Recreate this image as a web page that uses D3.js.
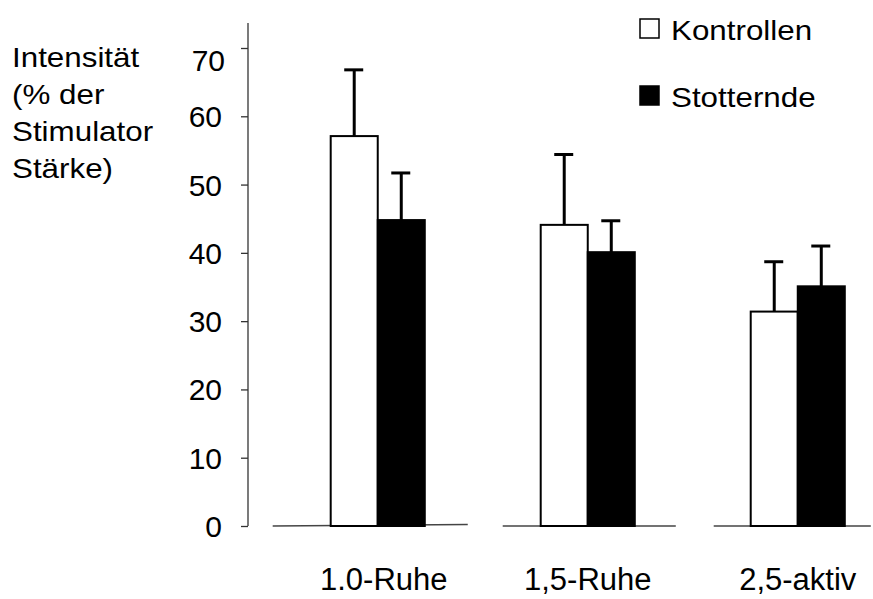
<!DOCTYPE html>
<html>
<head>
<meta charset="utf-8">
<script src="https://cdn.jsdelivr.net/npm/d3@7"></script>
<style>
  body { margin: 0; background: #fff; }
  text { font-family: "Liberation Sans", Arial, sans-serif; fill: #000; }
</style>
</head>
<body>
<div id="chart"></div>
<script>
const categories = ["1.0-Ruhe", "1,5-Ruhe", "2,5-aktiv"];
const seriesNames = ["Kontrollen", "Stotternde"];
const kontrollen = [57.1, 44.1, 31.4];
const stotternde = [44.8, 40.1, 35.1];
const kontrollenErr = [9.7, 10.3, 7.3];
const stotterndeErr = [6.9, 4.6, 5.9];
const yTicks = [0, 10, 20, 30, 40, 50, 60, 70];
const yTitle = ["Intensität", "(% der", "Stimulator", "Stärke)"];

const width = 873, height = 599;
const fills = ["#ffffff", "#000000"];

const svg = d3.select("#chart")
    .append("svg")
    .attr("width", width)
    .attr("height", height);

const y = d3.scaleLinear().domain([0, 70]).range([526, 48]);
const x = d3.scaleBand().domain(categories).range([330.7, 844.8]).paddingInner(0.552).paddingOuter(0);
const x1 = d3.scaleBand().domain(seriesNames).range([0, x.bandwidth()]);

// rows for drawing
const rows = categories.map((c, i) => ({
    cat: c,
    bars: [
        {name: seriesNames[0], value: kontrollen[i], err: kontrollenErr[i]},
        {name: seriesNames[1], value: stotternde[i], err: stotterndeErr[i]}
    ]
}));

// y axis
svg.append("line")
    .attr("x1", 248).attr("x2", 248)
    .attr("y1", 23).attr("y2", y(0))
    .attr("stroke", "#333").attr("stroke-width", 1.3);

const yAxis = svg.append("g")
    .attr("transform", "translate(248,0)")
    .call(d3.axisLeft(y).tickValues(yTicks).tickSize(7).tickPadding(19).tickSizeOuter(0));
yAxis.select(".domain").remove();
yAxis.selectAll(".tick line").attr("stroke", "#333").attr("stroke-width", 1.3);
yAxis.selectAll(".tick text")
    .style("font-size", "30px")
    .attr("dy", d => d === 70 ? "0.75em" : "0.35em")
    .attr("dx", d => d === 70 ? 3 : 0);

// baseline segments per group (overhang left/right in px)
const overhang = [[58, 43], [38, 41], [37, 26]];
svg.append("g").selectAll("line")
    .data(categories)
    .join("line")
    .attr("x1", (d, i) => x(d) - overhang[i][0])
    .attr("x2", (d, i) => x(d) + x.bandwidth() + overhang[i][1])
    .attr("y1", y(0))
    .attr("y2", (d, i) => i === 0 ? y(0) - 1.5 : y(0))
    .attr("stroke", "#444")
    .attr("stroke-width", 1.4);

const groups = svg.append("g").selectAll("g")
    .data(rows)
    .join("g")
    .attr("transform", d => "translate(" + x(d.cat) + ",0)");

// error bars (behind bars)
groups.selectAll("g.err")
    .data(d => d.bars)
    .join("g")
    .attr("class", "err")
    .each(function(b, i) {
        const g = d3.select(this);
        const cx = x1(b.name) + x1.bandwidth() / 2;
        g.append("line")
            .attr("x1", cx).attr("x2", cx)
            .attr("y1", y(b.value)).attr("y2", y(b.value + b.err))
            .attr("stroke", "#000").attr("stroke-width", 3);
        g.append("line")
            .attr("x1", cx - 10).attr("x2", cx + 9)
            .attr("y1", y(b.value + b.err)).attr("y2", y(b.value + b.err))
            .attr("stroke", "#000").attr("stroke-width", 3);
    });

groups.selectAll("rect")
    .data(d => d.bars)
    .join("rect")
    .attr("x", b => x1(b.name))
    .attr("y", b => y(b.value))
    .attr("width", x1.bandwidth())
    .attr("height", b => y(0) - y(b.value))
    .attr("fill", (b, i) => fills[i])
    .attr("stroke", "#000")
    .attr("stroke-width", 2);

// category labels
svg.append("g").selectAll("text")
    .data(categories)
    .join("text")
    .attr("x", (d, i) => x(d) + x.bandwidth() / 2 + (i === 0 ? 6 : 0))
    .attr("y", 590)
    .attr("text-anchor", "middle")
    .style("font-size", "31px")
    .text(d => d);

// y title
svg.append("g").selectAll("text")
    .data(yTitle)
    .join("text")
    .attr("transform", (d, i) => "translate(12," + (67 + i * 37) + ") scale(1.12,1)")
    .style("font-size", "28px")
    .text(d => d);

// legend
const legend = svg.append("g").selectAll("g")
    .data(seriesNames)
    .join("g")
    .attr("transform", (d, i) => "translate(640," + (19 + i * 67) + ")");
legend.append("rect")
    .attr("x", 0).attr("y", 0)
    .attr("width", 19).attr("height", 19)
    .attr("fill", (d, i) => fills[i])
    .attr("stroke", "#000")
    .attr("stroke-width", 1.5);
legend.append("text")
    .attr("transform", "translate(31,21) scale(1.12,1)")
    .style("font-size", "28px")
    .text(d => d);
</script>
</body>
</html>
